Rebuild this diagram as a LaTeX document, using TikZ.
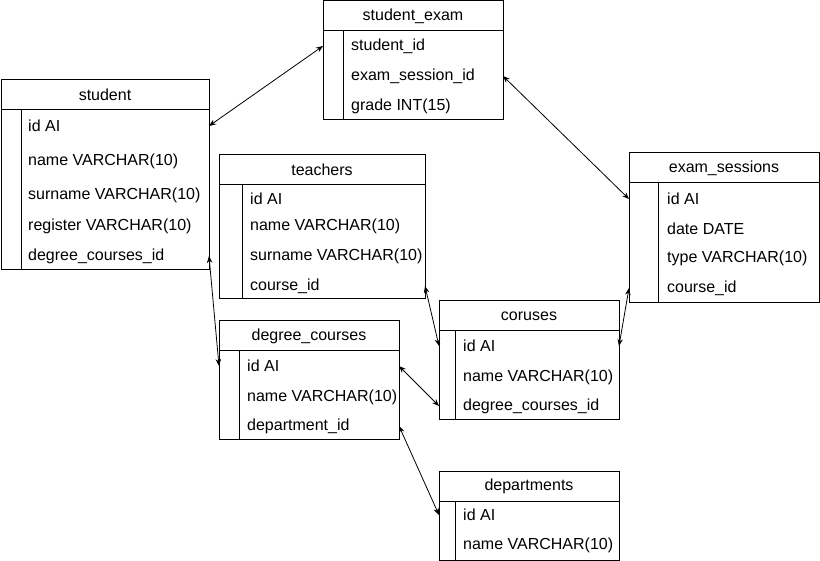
\documentclass[tikz,border=0pt]{standalone}
\usepackage{fontspec}
\setmainfont{Liberation Sans}
\usetikzlibrary{arrows.meta,positioning}
\newcommand{\dbfont}{\fontsize{16}{19}\selectfont}

\begin{document}
\begin{tikzpicture}[x=1pt, y=-1pt,
    head/.style={draw=black, line width=1pt, anchor=north west, minimum height=30pt,
                 inner sep=0pt, outer sep=0pt, font=\dbfont},
    body/.style={draw=black, line width=1pt, inner sep=0pt, outer sep=0pt},
    rule/.style={draw=black, line width=1pt},
    field/.style={anchor=west, inner sep=0pt, font=\dbfont},
    link/.style={{Stealth[length=7pt,width=5.5pt]}-{Stealth[length=7pt,width=5.5pt]},
                 line width=0.8pt, draw=black}
]
\useasboundingbox (0,0) rectangle (820,561);

\node[head, minimum width=180pt] (examhead) at (323,1) {student\_exam};
\node[body, minimum width=180pt, minimum height=89pt, below=0pt of examhead] (exambody) {};
\draw[rule] ([xshift=20pt]exambody.north west) -- ([xshift=20pt]exambody.south west);
\node[field] (exam1) at (351,46) {student\_id};
\node[field] (exam2) at (351,76) {exam\_session\_id};
\node[field] (exam3) at (351,106) {grade INT(15)};

\node[head, minimum width=208pt] (studenthead) at (1,80) {student};
\node[body, minimum width=208pt, minimum height=160pt, below=0pt of studenthead] (studentbody) {};
\draw[rule] ([xshift=20pt]studentbody.north west) -- ([xshift=20pt]studentbody.south west);
\node[field] (student1) at (28,126) {id AI};
\node[field] (student2) at (28,161) {name VARCHAR(10)};
\node[field] (student3) at (28,195) {surname VARCHAR(10)};
\node[field] (student4) at (28,226) {register VARCHAR(10)};
\node[field] (student5) at (28,256) {degree\_courses\_id};

\node[head, minimum width=206pt] (teachhead) at (219,155) {teachers};
\node[body, minimum width=206pt, minimum height=114pt, below=0pt of teachhead] (teachbody) {};
\draw[rule] ([xshift=23pt]teachbody.north west) -- ([xshift=23pt]teachbody.south west);
\node[field] (teach1) at (250,199) {id AI};
\node[field] (teach2) at (250,226) {name VARCHAR(10)};
\node[field] (teach3) at (250,256) {surname VARCHAR(10)};
\node[field] (teach4) at (250,286) {course\_id};

\node[head, minimum width=190pt] (sesshead) at (629,153) {exam\_sessions};
\node[body, minimum width=190pt, minimum height=120pt, below=0pt of sesshead] (sessbody) {};
\draw[rule] ([xshift=29pt]sessbody.north west) -- ([xshift=29pt]sessbody.south west);
\node[field] (sess1) at (667,199) {id AI};
\node[field] (sess2) at (667,229) {date DATE};
\node[field] (sess3) at (667,258) {type VARCHAR(10)};
\node[field] (sess4) at (667,288) {course\_id};

\node[head, minimum width=180pt] (coursehead) at (439,301) {coruses};
\node[body, minimum width=180pt, minimum height=89pt, below=0pt of coursehead] (coursebody) {};
\draw[rule] ([xshift=16pt]coursebody.north west) -- ([xshift=16pt]coursebody.south west);
\node[field] (course1) at (463,346) {id AI};
\node[field] (course2) at (463,377) {name VARCHAR(10)};
\node[field] (course3) at (463,406) {degree\_courses\_id};

\node[head, minimum width=180pt] (degreehead) at (219,321) {degree\_courses};
\node[body, minimum width=180pt, minimum height=89pt, below=0pt of degreehead] (degreebody) {};
\draw[rule] ([xshift=20pt]degreebody.north west) -- ([xshift=20pt]degreebody.south west);
\node[field] (degree1) at (247,366) {id AI};
\node[field] (degree2) at (247,397) {name VARCHAR(10)};
\node[field] (degree3) at (247,426) {department\_id};

\node[head, minimum width=180pt] (depthead) at (439,471) {departments};
\node[body, minimum width=180pt, minimum height=59pt, below=0pt of depthead] (deptbody) {};
\draw[rule] ([xshift=16pt]deptbody.north west) -- ([xshift=16pt]deptbody.south west);
\node[field] (dept1) at (463,515) {id AI};
\node[field] (dept2) at (463,545) {name VARCHAR(10)};

\draw[link] (studentbody.east |- student1.west) -- (exambody.west |- exam1.west);
\draw[link] (exambody.east |- exam2.west) -- (sessbody.west |- sess1.west);
\draw[link] (studentbody.east |- student5.west) -- (degreebody.west |- degree1.west);
\draw[link] (teachbody.east |- teach4.west) -- (coursebody.west |- course1.west);
\draw[link] (coursebody.east |- course1.west) -- (sessbody.west |- sess4.west);
\draw[link] (degreebody.east |- degree1.west) -- (coursebody.west |- course3.west);
\draw[link] (degreebody.east |- degree3.west) -- (deptbody.west |- dept1.west);
\end{tikzpicture}
\end{document}
